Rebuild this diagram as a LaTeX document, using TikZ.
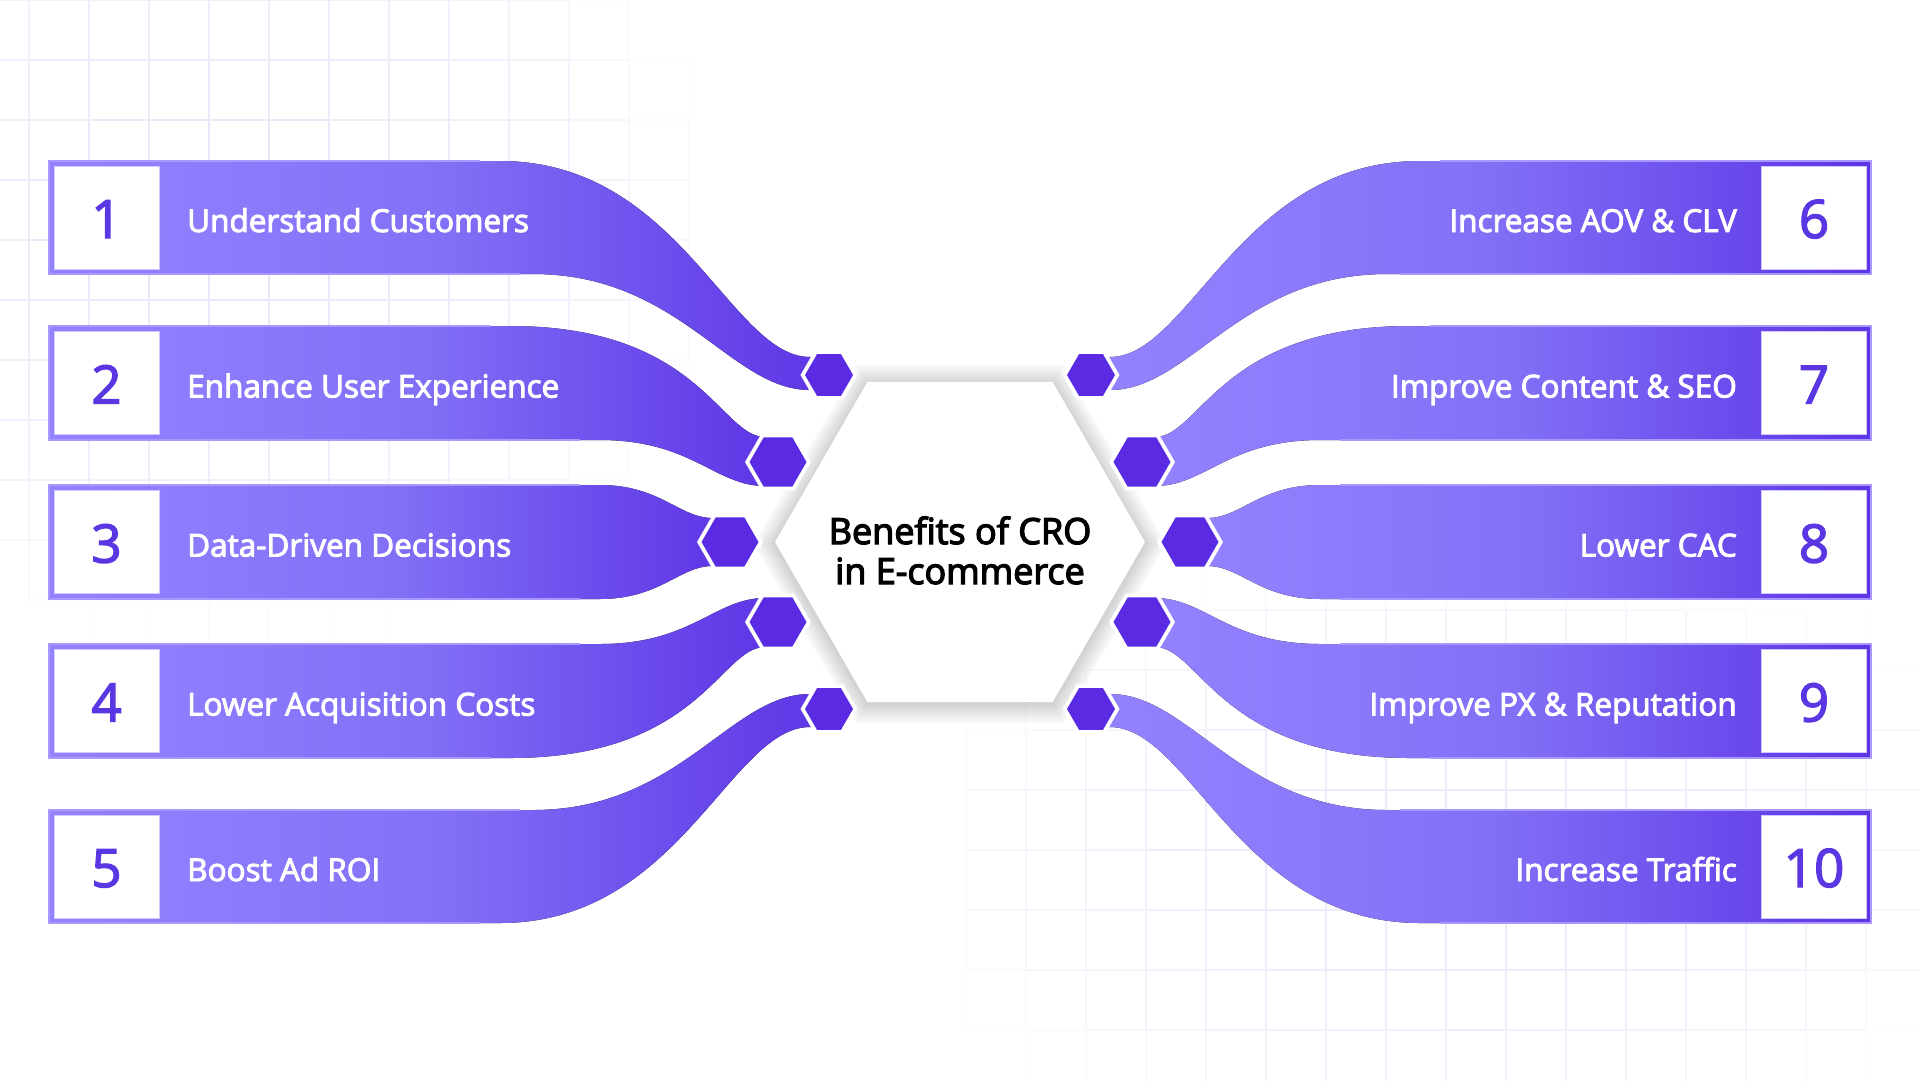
\documentclass[tikz,border=0pt]{standalone}
\usepackage{fontspec}
\setmainfont{Open Sans}
\newfontfamily\labfont{Open Sans}[FakeBold=3]
\newfontfamily\numfont{Open Sans}[FakeBold=2.5]
\newfontfamily\ttlfont{Open Sans}[FakeBold=3.5]
\definecolor{bandL}{HTML}{9483FF}
\definecolor{bandM}{HTML}{8271F6}
\definecolor{bandD}{HTML}{5E34E6}
\definecolor{hexc}{HTML}{5A2BE2}
\definecolor{numc}{HTML}{5B36E3}
\definecolor{gridc}{HTML}{DCD6F6}
\definecolor{edgec}{HTML}{A999FF}
\definecolor{sqedge}{HTML}{CFC7FF}
\newcommand\hexat[3]{({#1+(#3)},{#2}) -- ({#1+0.5*(#3)},{#2+0.8660254*(#3)}) -- ({#1-0.5*(#3)},{#2+0.8660254*(#3)}) -- ({#1-(#3)},{#2}) -- ({#1-0.5*(#3)},{#2-0.8660254*(#3)}) -- ({#1+0.5*(#3)},{#2-0.8660254*(#3)}) -- cycle}
\newcommand\smallhex[4]{%
  \coordinate (#1) at (#2,#3);
  \fill[white] \hexat{#2}{#3}{#4};
  \fill[hexc] \hexat{#2}{#3}{#4-4.5};
}
\tikzset{
  band/.style={left color=bandL, right color=bandD, middle color=bandM},
  bandedge/.style={draw=edgec, line width=1.5},
  sq/.style={draw=sqedge, line width=1, fill=white, minimum width=105, minimum height=103, inner sep=0},
  lab/.style={text=white, font=\labfont\fontsize{31.5}{37}\selectfont, inner sep=0},
  numst/.style={text=numc, font=\numfont\fontsize{53}{60}\selectfont, inner sep=0, anchor=base},
  ttl/.style={text=black, font=\ttlfont\fontsize{36}{42}\selectfont, inner sep=0, anchor=base},
}
\newcommand\sidebands[1]{%
  % band 1
  \fill[band] (49,161) -- (500,161) .. controls (680,161) and (730,357) .. (810,357) -- (829,357) -- (829,390) -- (810,390) .. controls (730,390) and (680,274) .. (533,274) -- (49,274) -- cycle;
  \draw[bandedge] (480,161) -- (49,161) -- (49,274) -- (520,274);
  % band 2
  \fill[band] (49,326) -- (510,326) .. controls (700,326) and (720,437) .. (765,437) -- (778,437) -- (778,486) -- (765,486) .. controls (715,486) and (692,440) .. (600,440) -- (49,440) -- cycle;
  \draw[bandedge] (490,326) -- (49,326) -- (49,440) -- (580,440);
  % band 3
  \fill[band] (49,485) -- (600,485) .. controls (660,485) and (680,518) .. (712,518) -- (730,518) -- (730,566) -- (712,566) .. controls (680,566) and (660,599) .. (600,599) -- (49,599) -- cycle;
  \draw[bandedge] (580,485) -- (49,485) -- (49,599) -- (580,599);
  % band 4
  \fill[band] (49,644) -- (600,644) .. controls (692,644) and (715,598) .. (765,598) -- (778,598) -- (778,647) -- (765,647) .. controls (720,647) and (700,758) .. (510,758) -- (49,758) -- cycle;
  \draw[bandedge] (580,644) -- (49,644) -- (49,758) -- (490,758);
  % band 5
  \fill[band] (49,810) -- (533,810) .. controls (680,810) and (730,694) .. (810,694) -- (829,694) -- (829,727) -- (810,727) .. controls (730,727) and (680,923) .. (500,923) -- (49,923) -- cycle;
  \draw[bandedge] (520,810) -- (49,810) -- (49,923) -- (480,923);
}
\newcommand\sidehexes[1]{%
  \smallhex{#1h1}{829}{375}{28.5}
  \smallhex{#1h2}{778}{462}{33}
  \smallhex{#1h3}{730}{542}{33}
  \smallhex{#1h4}{778}{622}{33}
  \smallhex{#1h5}{829}{709}{28.5}
}
\begin{document}
\begin{tikzpicture}[x=1pt,y=-1pt]
\useasboundingbox (0,0) rectangle (1920,1080);
\fill[white] (0,0) rectangle (1920,1080);
% faint grid, top-left patch
\foreach \i in {0,...,11}{
  \foreach \j in {0,...,10}{
    \pgfmathsetmacro\gx{29+60*\i}
    \pgfmathsetmacro\gy{60*\j}
    \pgfmathsetmacro\gdx{(\gx-230)/520}
    \pgfmathsetmacro\gdy{(\gy+30-230)/430}
    \pgfmathsetmacro\gp{max(0,min(100,60*(1-\gdx*\gdx-\gdy*\gdy)))}
    \draw[gridc!\gp!white, line width=1.5] (\gx,\gy) -- (\gx,\gy+60);
    \pgfmathsetmacro\gdx{(\gx-30-230)/520}
    \pgfmathsetmacro\gdy{(\gy-230)/430}
    \pgfmathsetmacro\gp{max(0,min(100,60*(1-\gdx*\gdx-\gdy*\gdy)))}
    \draw[gridc!\gp!white, line width=1.5] (\gx-60,\gy) -- (\gx,\gy);
  }
}
% faint grid, bottom-right patch
\foreach \i in {0,...,16}{
  \foreach \j in {0,...,9}{
    \pgfmathsetmacro\gx{966+60*\i}
    \pgfmathsetmacro\gy{550+60*\j}
    \pgfmathsetmacro\gdx{(\gx-1460)/560}
    \pgfmathsetmacro\gdy{(\gy+30-860)/330}
    \pgfmathsetmacro\gp{max(0,min(100,55*(1-\gdx*\gdx-\gdy*\gdy)))}
    \draw[gridc!\gp!white, line width=1.5] (\gx,\gy) -- (\gx,\gy+60);
    \pgfmathsetmacro\gdx{(\gx+30-1460)/560}
    \pgfmathsetmacro\gdy{(\gy-860)/330}
    \pgfmathsetmacro\gp{max(0,min(100,55*(1-\gdx*\gdx-\gdy*\gdy)))}
    \draw[gridc!\gp!white, line width=1.5] (\gx,\gy) -- (\gx+60,\gy);
  }
}
% bands
\sidebands{L}
\begin{scope}[xshift=1920pt, xscale=-1]
  \sidebands{R}
\end{scope}
% central hexagon with soft shadow
\foreach \r in {207,205,...,187}{
  \fill[black, fill opacity=0.014] \hexat{960}{544}{\r};
}
\coordinate (center) at (960,542);
\fill[white] \hexat{960}{542}{185};
% small hexagons
\sidehexes{L}
\begin{scope}[xshift=1920pt, xscale=-1]
  \sidehexes{R}
\end{scope}
% number squares
\foreach \k/\yc in {1/217.5, 2/383, 3/542, 4/701, 5/866.5}{
  \node[sq] (bl\k) at (106.5,\yc) {};
}
\foreach \k/\yc in {6/217.5, 7/383, 8/542, 9/701, 10/866.5}{
  \node[sq] (br\k) at (1813.5,\yc) {};
}
\foreach \k/\yc in {1/217.5, 2/383, 3/542, 4/701, 5/866.5}{
  \node[numst] (nl\k) at (106.5,\yc+20.5) {\k};
}
\foreach \k/\yc in {6/217.5, 7/383, 8/542, 9/701, 10/866.5}{
  \node[numst] (nr\k) at (1814,\yc+20.5) {\k};
}
% labels
\node[lab, anchor=base west] (t1) at (187,232) {Understand Customers};
\node[lab, anchor=base west] (t2) at (187,397.5) {Enhance User Experience};
\node[lab, anchor=base west] (t3) at (187,556.5) {Data-Driven Decisions};
\node[lab, anchor=base west] (t4) at (187,715.5) {Lower Acquisition Costs};
\node[lab, anchor=base west] (t5) at (187,881) {Boost Ad ROI};
\node[lab, anchor=base east] (t6) at (1737,232) {Increase AOV \& CLV};
\node[lab, anchor=base east] (t7) at (1737,397.5) {Improve Content \& SEO};
\node[lab, anchor=base east] (t8) at (1737,556.5) {Lower CAC};
\node[lab, anchor=base east] (t9) at (1737,715.5) {Improve PX \& Reputation};
\node[lab, anchor=base east] (t10) at (1737,881) {Increase Traffic};
% title
\node[ttl] (title1) at (960,544) {Benefits of CRO};
\node[ttl] (title2) at (960,584) {in E-commerce};
\end{tikzpicture}
\end{document}
